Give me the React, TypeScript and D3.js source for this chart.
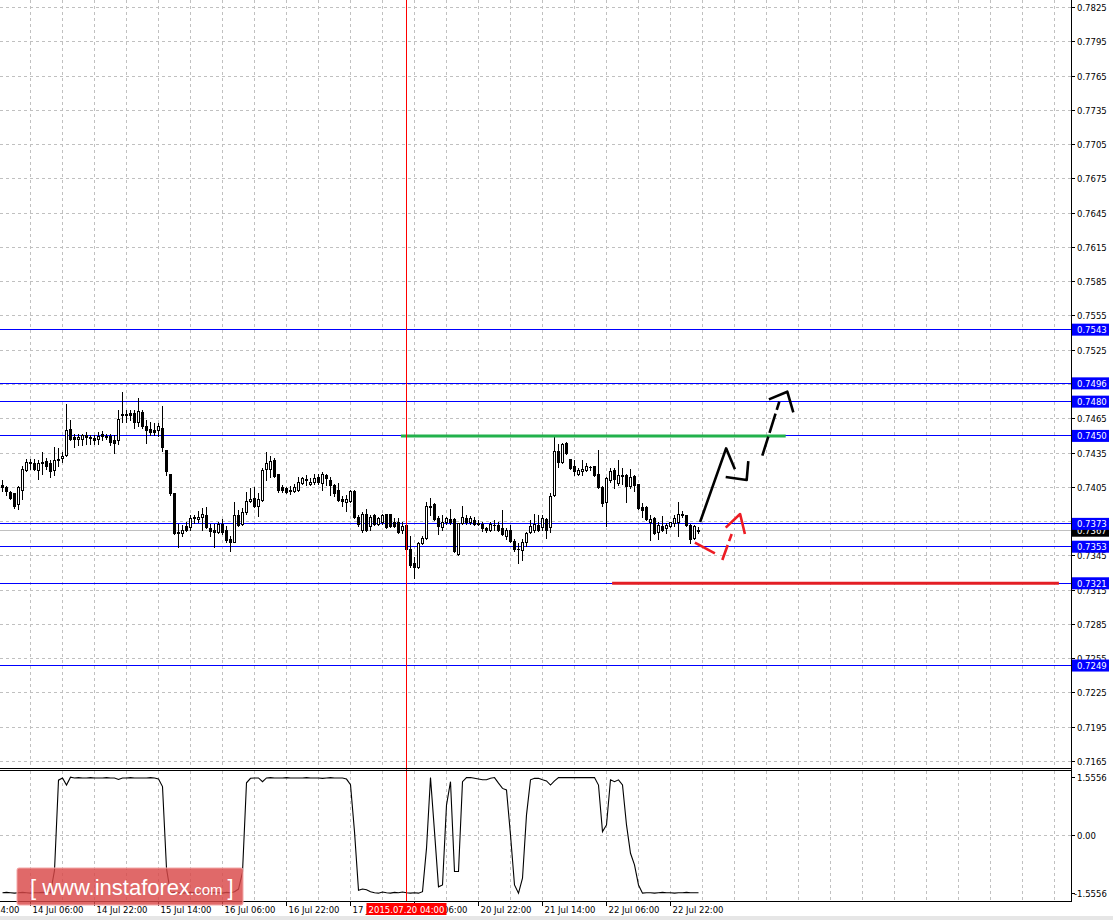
import React from "react";
import * as d3 from "d3";

// ---------- data ----------
const PRICE_TICKS = [0.7825, 0.7795, 0.7765, 0.7735, 0.7705, 0.7675, 0.7645, 0.7615, 0.7585, 0.7555, 0.7525, 0.7495, 0.7465, 0.7435, 0.7405, 0.7375, 0.7345, 0.7315, 0.7285, 0.7255, 0.7225, 0.7195, 0.7165];
const LEVELS = [0.7543, 0.7496, 0.748, 0.745, 0.7373, 0.7353, 0.7321, 0.7249];
const CURRENT = 0.7367;

const OPEN = [0.7407,0.7405,0.7401,0.7400,0.7390,0.7403,0.7420,0.7427,0.7426,0.7420,0.7426,0.7428,0.7426,0.7420,0.7429,0.7431,0.7433,0.7456,0.7449,0.7447,0.7447,0.7451,0.7448,0.7448,0.7447,0.7452,0.7450,0.7450,0.7446,0.7446,0.7469,0.7468,0.7470,0.7470,0.7462,0.7471,0.7459,0.7456,0.7455,0.7455,0.7457,0.7438,0.7417,0.7400,0.7366,0.7365,0.7371,0.7370,0.7378,0.7377,0.7379,0.7381,0.7369,0.7368,0.7366,0.7373,0.7368,0.7360,0.7357,0.7381,0.7373,0.7383,0.7393,0.7396,0.7389,0.7394,0.7421,0.7421,0.7429,0.7417,0.7405,0.7404,0.7402,0.7402,0.7403,0.7409,0.7412,0.7408,0.7410,0.7414,0.7409,0.7416,0.7411,0.7407,0.7403,0.7395,0.7392,0.7393,0.7402,0.7379,0.7368,0.7382,0.7371,0.7381,0.7373,0.7375,0.7382,0.7382,0.7375,0.7375,0.7368,0.7372,0.7351,0.7339,0.7335,0.7356,0.7361,0.7389,0.7390,0.7378,0.7370,0.7375,0.7377,0.7377,0.7347,0.7374,0.7378,0.7375,0.7376,0.7374,0.7373,0.7369,0.7368,0.7372,0.7372,0.7369,0.7362,0.7368,0.7358,0.7351,0.7350,0.7357,0.7366,0.7368,0.7372,0.7370,0.7377,0.7370,0.7398,0.7437,0.7427,0.7444,0.7430,0.7424,0.7417,0.7419,0.7420,0.7423,0.7424,0.7417,0.7405,0.7392,0.7411,0.7420,0.7409,0.7415,0.7416,0.7406,0.7415,0.7408,0.7388,0.7388,0.7375,0.7378,0.7366,0.7371,0.7369,0.7371,0.7374,0.7375,0.7381,0.7381,0.7372,0.7361,0.7368];
const HIGH = [0.7411,0.7406,0.7402,0.7400,0.7406,0.7424,0.7430,0.7430,0.7430,0.7429,0.7436,0.7431,0.7429,0.7440,0.7439,0.7436,0.7478,0.7464,0.7452,0.7452,0.7452,0.7453,0.7451,0.7451,0.7453,0.7454,0.7452,0.7452,0.7451,0.7473,0.7488,0.7473,0.7473,0.7473,0.7483,0.7473,0.7464,0.7462,0.7461,0.7461,0.7476,0.7438,0.7417,0.7400,0.7373,0.7372,0.7375,0.7381,0.7381,0.7384,0.7387,0.7388,0.7373,0.7373,0.7375,0.7377,0.7371,0.7362,0.7392,0.7385,0.7387,0.7401,0.7404,0.7405,0.7400,0.7422,0.7436,0.7432,0.7431,0.7417,0.7407,0.7405,0.7406,0.7408,0.7414,0.7414,0.7416,0.7413,0.7417,0.7417,0.7418,0.7417,0.7414,0.7408,0.7409,0.7397,0.7398,0.7403,0.7403,0.7381,0.7383,0.7386,0.7381,0.7382,0.7379,0.7382,0.7382,0.7382,0.7378,0.7378,0.7375,0.7373,0.7362,0.7344,0.7357,0.7362,0.7392,0.7396,0.7391,0.7380,0.7381,0.7379,0.7386,0.7378,0.7374,0.7389,0.7381,0.7380,0.7379,0.7376,0.7375,0.7370,0.7375,0.7376,0.7375,0.7385,0.7369,0.7372,0.7360,0.7356,0.7360,0.7366,0.7376,0.7382,0.7381,0.7381,0.7378,0.7400,0.7449,0.7443,0.7444,0.7445,0.7430,0.7429,0.7422,0.7429,0.7426,0.7424,0.7424,0.7438,0.7406,0.7414,0.7422,0.7422,0.7429,0.7422,0.7417,0.7421,0.7416,0.7408,0.7391,0.7389,0.7381,0.7379,0.7375,0.7380,0.7374,0.7375,0.7381,0.7392,0.7384,0.7381,0.7373,0.7372,0.7370];
const LOW = [0.7402,0.7398,0.7395,0.7387,0.7386,0.7395,0.7419,0.7421,0.7420,0.7412,0.7417,0.7421,0.7414,0.7416,0.7424,0.7427,0.7432,0.7446,0.7440,0.7442,0.7442,0.7443,0.7443,0.7443,0.7443,0.7446,0.7447,0.7442,0.7435,0.7443,0.7462,0.7462,0.7464,0.7457,0.7459,0.7457,0.7444,0.7451,0.7451,0.7450,0.7437,0.7416,0.7398,0.7364,0.7353,0.7362,0.7367,0.7368,0.7374,0.7375,0.7368,0.7369,0.7362,0.7353,0.7365,0.7364,0.7357,0.7349,0.7357,0.7371,0.7372,0.7382,0.7392,0.7388,0.7380,0.7393,0.7411,0.7414,0.7414,0.7401,0.7401,0.7400,0.7399,0.7401,0.7402,0.7408,0.7407,0.7407,0.7408,0.7408,0.7403,0.7407,0.7398,0.7397,0.7393,0.7389,0.7384,0.7392,0.7378,0.7371,0.7366,0.7367,0.7368,0.7372,0.7372,0.7373,0.7369,0.7370,0.7370,0.7365,0.7365,0.7350,0.7335,0.7326,0.7334,0.7355,0.7360,0.7381,0.7376,0.7364,0.7368,0.7373,0.7373,0.7348,0.7346,0.7373,0.7373,0.7373,0.7372,0.7372,0.7367,0.7366,0.7367,0.7368,0.7367,0.7363,0.7360,0.7357,0.7349,0.7339,0.7341,0.7354,0.7365,0.7366,0.7367,0.7368,0.7361,0.7366,0.7397,0.7423,0.7426,0.7434,0.7421,0.7416,0.7416,0.7416,0.7419,0.7420,0.7415,0.7404,0.7389,0.7371,0.7410,0.7404,0.7407,0.7408,0.7392,0.7404,0.7402,0.7386,0.7379,0.7376,0.7359,0.7364,0.7360,0.7367,0.7365,0.7370,0.7371,0.7362,0.7379,0.7371,0.7356,0.7360,0.7365];
const CLOSE = [0.7405,0.7402,0.7396,0.7389,0.7405,0.7421,0.7427,0.7426,0.7421,0.7426,0.7427,0.7424,0.7419,0.7429,0.7430,0.7432,0.7455,0.7447,0.7447,0.7449,0.7451,0.7449,0.7449,0.7446,0.7450,0.7450,0.7449,0.7445,0.7444,0.7465,0.7468,0.7469,0.7468,0.7462,0.7472,0.7459,0.7455,0.7453,0.7453,0.7459,0.7440,0.7419,0.7400,0.7365,0.7365,0.7368,0.7368,0.7378,0.7379,0.7379,0.7382,0.7370,0.7367,0.7366,0.7373,0.7366,0.7359,0.7357,0.7381,0.7372,0.7383,0.7393,0.7395,0.7389,0.7395,0.7420,0.7426,0.7428,0.7415,0.7403,0.7403,0.7401,0.7403,0.7405,0.7410,0.7413,0.7411,0.7410,0.7413,0.7410,0.7417,0.7413,0.7407,0.7400,0.7394,0.7393,0.7395,0.7402,0.7379,0.7373,0.7382,0.7368,0.7379,0.7373,0.7378,0.7381,0.7370,0.7371,0.7371,0.7366,0.7371,0.7351,0.7337,0.7335,0.7356,0.7361,0.7389,0.7388,0.7377,0.7371,0.7375,0.7378,0.7375,0.7349,0.7374,0.7379,0.7375,0.7378,0.7373,0.7373,0.7369,0.7368,0.7373,0.7372,0.7368,0.7364,0.7368,0.7358,0.7351,0.7351,0.7357,0.7365,0.7371,0.7373,0.7368,0.7378,0.7368,0.7397,0.7437,0.7427,0.7443,0.7435,0.7422,0.7419,0.7420,0.7421,0.7424,0.7423,0.7416,0.7405,0.7391,0.7413,0.7419,0.7412,0.7416,0.7416,0.7406,0.7414,0.7407,0.7387,0.7385,0.7377,0.7377,0.7365,0.7372,0.7368,0.7372,0.7375,0.7378,0.7382,0.7382,0.7372,0.7360,0.7371,0.7367];

const OSC = [-1.55,-1.54,-1.55,-1.56,-1.55,-1.54,-1.55,-1.56,-1.55,-1.55,-1.54,-1.55,-1.55,-0.95,1.47,1.53,1.34,1.55,1.53,1.54,1.53,1.53,1.54,1.53,1.53,1.53,1.54,1.53,1.53,1.49,1.53,1.53,1.54,1.53,1.53,1.53,1.53,1.54,1.53,1.50,1.30,-0.90,-1.55,-1.54,-1.55,-1.56,-1.55,-1.54,-1.55,-1.55,-1.56,-1.55,-1.54,-1.55,-1.55,-1.56,-1.54,-1.55,-1.52,-1.45,-1.00,1.40,1.52,1.53,1.53,1.43,1.53,1.54,1.53,1.53,1.53,1.54,1.53,1.53,1.53,1.53,1.54,1.53,1.53,1.53,1.52,1.53,1.54,1.53,1.53,1.53,1.50,1.35,0.09,-1.48,-1.45,-1.47,-1.52,-1.55,-1.56,-1.53,-1.55,-1.56,-1.54,-1.55,-1.53,-1.55,-1.56,-1.55,-1.56,-1.52,-0.36,1.54,0.09,-1.39,-1.34,0.80,1.43,-0.98,-0.98,1.43,1.54,1.54,1.52,1.50,1.48,1.48,1.52,1.54,1.39,1.25,1.21,0.00,-1.34,-1.56,-1.16,0.54,1.48,1.52,1.52,1.48,1.45,1.34,1.45,1.54,1.54,1.54,1.54,1.54,1.54,1.54,1.54,1.54,1.54,1.34,0.09,0.27,1.48,1.43,1.48,1.34,0.27,-0.49,-0.80,-1.34,-1.56,-1.55,-1.55,-1.56,-1.55,-1.54,-1.55,-1.55,-1.56,-1.55,-1.55,-1.54,-1.55,-1.55,-1.55];
const OSC_TICKS = [1.5556, 0, -1.5556];
const OSC_LABELS = ["1.5556", "0.00", "-1.5556"];

const TIME_BARS = [-9, 7, 23, 39, 55, 71, 87, 103, 119, 135, 151, 167];
const TIME_LABELS = ["13 Jul 14:00", "14 Jul 06:00", "14 Jul 22:00", "15 Jul 14:00", "16 Jul 06:00", "16 Jul 22:00", "17 Jul 14:00", "20 Jul 06:00", "20 Jul 22:00", "21 Jul 14:00", "22 Jul 06:00", "22 Jul 22:00"];
const MARKER_BAR = 101;
const MARKER_LABEL = "2015.07.20 04:00";

// analyst drawings, in (bar, price)
const GREEN_LINE = [[99.6, 0.745], [195.8, 0.745]];
const RED_LINE = [[152.4, 0.7321], [264.1, 0.7321]];
const BLACK_UP1 = [[174.4, 0.73746], [180.9, 0.74391], [183.1, 0.74208]];
const BLACK_UP2 = [[180.8, 0.7414], [186.05, 0.74114], [186.45, 0.7428]];
const BLACK_DASH = [[189.95, 0.74327], [194.2, 0.74799]];
const BLACK_HEAD = [[191.6, 0.7482], [196.2, 0.74887], [197.7, 0.74706]];
const RED_1 = [[173.1, 0.73565], [178.1, 0.73472]];
const RED_2 = [[179.95, 0.73414], [182.3, 0.73641]];
const RED_3 = [[180.8, 0.73697], [184.4, 0.73816], [185.6, 0.73641]];

const FONT = "'DejaVu Sans', Verdana, sans-serif";

export default function App() {
  const W = 1113, H = 920;
  const axisX = 1071;
  const mainBottom = 768;
  const indTop = 771;
  const indBottom = 901;
  const x = d3.scaleLinear().domain([0, 174]).range([2.5, 698.5]);
  const y = d3.scaleLinear().domain([0.7165, 0.7825]).range([761.5, 7.5]);
  const yi = d3.scaleLinear().domain([-1.5556, 1.5556]).range([893, 777]);
  const snap = (v: number) => Math.round(v - 0.5) + 0.5;
  const fmt = d3.format(".4f");
  const line = d3.line<number[]>().x((d) => x(d[0])).y((d) => y(d[1]));
  const oscLine = d3.line<number>().x((_, i) => x(i)).y((d) => yi(d));
  const gridBars = d3.range(7, 264, 8);

  return (
    <svg width={W} height={H} style={{ position: "absolute", left: 0, top: 0, background: "#fff" }} fontFamily={FONT}>
      <defs>
        <clipPath id="mainClip"><rect x={0} y={0} width={axisX} height={mainBottom} /></clipPath>
        <clipPath id="indClip"><rect x={0} y={indTop} width={axisX} height={indBottom - indTop} /></clipPath>
      </defs>
      <rect x={0} y={0} width={W} height={H} fill="#fff" />
      <rect x={0} y={916} width={W} height={4} fill="#e6e6e6" />

      {/* main panel */}
      <g clipPath="url(#mainClip)">
        {gridBars.map((b) => (
          <line key={"gv" + b} x1={x(b)} x2={x(b)} y1={0} y2={mainBottom} stroke="#c0c0c0" strokeDasharray="3,3" />
        ))}
        {PRICE_TICKS.map((p) => (
          <line key={"gh" + p} x1={0} x2={axisX} y1={snap(y(p))} y2={snap(y(p))} stroke="#c0c0c0" strokeDasharray="3,3" />
        ))}
        <line x1={0} x2={axisX} y1={snap(y(CURRENT))} y2={snap(y(CURRENT))} stroke="#c0c0c0" />
        {LEVELS.map((p) => (
          <line key={"lv" + p} x1={0} x2={axisX} y1={snap(y(p))} y2={snap(y(p))} stroke="#0000ff" />
        ))}
        {OPEN.map((o, i) => {
          const c = CLOSE[i];
          const cx = x(i);
          const yo = Math.round(y(o));
          const yc = Math.round(y(c));
          let body;
          if (yo === yc) {
            body = <line x1={cx - 1.5} x2={cx + 1.5} y1={yo + 0.5} y2={yo + 0.5} stroke="#000" />;
          } else if (yc > yo) {
            body = <rect x={cx - 1.5} y={yo} width={3} height={yc - yo + 1} fill="#000" />;
          } else {
            body = <rect x={cx - 1} y={yc + 0.5} width={2} height={yo - yc} fill="#fff" stroke="#000" />;
          }
          return (
            <g key={"c" + i}>
              <line x1={cx} x2={cx} y1={Math.round(y(HIGH[i]))} y2={Math.round(y(LOW[i])) + 1} stroke="#000" />
              {body}
            </g>
          );
        })}
        <path d={line(GREEN_LINE) || ""} stroke="#22b14c" strokeWidth={3} fill="none" />
        <path d={line(RED_LINE) || ""} stroke="#e31e24" strokeWidth={3} fill="none" />
        <path d={line(BLACK_UP1) || ""} stroke="#000" strokeWidth={2.6} fill="none" strokeLinejoin="round" />
        <path d={line(BLACK_UP2) || ""} stroke="#000" strokeWidth={2.6} fill="none" strokeLinejoin="round" />
        <path d={line(BLACK_DASH) || ""} stroke="#000" strokeWidth={2.6} fill="none" strokeDasharray="20,4" />
        <path d={line(BLACK_HEAD) || ""} stroke="#000" strokeWidth={2.6} fill="none" strokeLinejoin="round" />
        <path d={line(RED_1) || ""} stroke="#ed1c24" strokeWidth={2.6} fill="none" />
        <path d={line(RED_2) || ""} stroke="#ed1c24" strokeWidth={2.6} fill="none" strokeDasharray="16,4" />
        <path d={line(RED_3) || ""} stroke="#ed1c24" strokeWidth={2.6} fill="none" strokeLinejoin="round" />
      </g>

      {/* indicator panel */}
      <g clipPath="url(#indClip)">
        {gridBars.map((b) => (
          <line key={"ig" + b} x1={x(b)} x2={x(b)} y1={indTop} y2={indBottom} stroke="#c0c0c0" strokeDasharray="3,3" />
        ))}
        <line x1={0} x2={axisX} y1={snap(yi(0))} y2={snap(yi(0))} stroke="#c0c0c0" strokeDasharray="3,3" />
        <path d={oscLine(OSC) || ""} stroke="#000" strokeWidth={1.1} fill="none" />
      </g>

      {/* marker vertical line */}
      <line x1={x(MARKER_BAR)} x2={x(MARKER_BAR)} y1={0} y2={indBottom} stroke="#ff0000" />

      {/* panel borders */}
      <line x1={0} x2={axisX} y1={768.5} y2={768.5} stroke="#000" />
      <line x1={0} x2={axisX} y1={770.5} y2={770.5} stroke="#000" />
      <line x1={0} x2={axisX + 1} y1={indBottom + 0.5} y2={indBottom + 0.5} stroke="#000" />
      <line x1={axisX + 0.5} x2={axisX + 0.5} y1={0} y2={indBottom + 1} stroke="#000" />

      {/* price axis */}
      {PRICE_TICKS.map((p) => (
        <g key={"pt" + p}>
          <line x1={axisX} x2={axisX + 4} y1={snap(y(p))} y2={snap(y(p))} stroke="#000" />
          <text x={axisX + 6} y={y(p) + 3.5} fontSize={8.5} fill="#000">{fmt(p)}</text>
        </g>
      ))}
      <g>
        <rect x={axisX + 1} y={y(CURRENT) - 6} width={37} height={12} fill="#000" />
        <text x={axisX + 6} y={y(CURRENT) + 3.5} fontSize={8.5} fill="#fff">{fmt(CURRENT)}</text>
      </g>
      {LEVELS.map((p) => (
        <g key={"lb" + p}>
          <rect x={axisX + 1} y={y(p) - 6} width={37} height={12} fill="#0000ff" />
          <text x={axisX + 6} y={y(p) + 3.5} fontSize={8.5} fill="#fff">{fmt(p)}</text>
        </g>
      ))}

      {/* oscillator axis */}
      {OSC_TICKS.map((v, i) => (
        <g key={"ot" + i}>
          <line x1={axisX} x2={axisX + 4} y1={snap(yi(v))} y2={snap(yi(v))} stroke="#000" />
          <text x={v < 0 ? axisX + 3 : axisX + 6} y={yi(v) + 3.5} fontSize={8.5} fill="#000">{OSC_LABELS[i]}</text>
        </g>
      ))}

      {/* time axis */}
      {TIME_BARS.map((b, i) => (
        <g key={"tt" + b}>
          <line x1={x(b)} x2={x(b)} y1={indBottom} y2={indBottom + 5} stroke="#000" />
          <text x={x(b) + 2} y={913} fontSize={8.5} fill="#000">{TIME_LABELS[i]}</text>
        </g>
      ))}
      <rect x={x(MARKER_BAR) - 40} y={903} width={80} height={12} fill="#ff0000" />
      <text x={x(MARKER_BAR)} y={912.5} fontSize={8.5} fill="#fff" textAnchor="middle">{MARKER_LABEL}</text>

      {/* watermark */}
      <g>
        <rect x={17} y={868} width={226} height={37} rx={2} fill="#d94848" fillOpacity={0.82} stroke="#f2a8a8" strokeWidth={1} />
        <text x={30} y={895} fill="#fff" fontFamily="'Liberation Sans', Arial, sans-serif" fontSize={22}>
          <tspan>[</tspan>
          <tspan dx={6}>www.instaforex</tspan>
          <tspan fontSize={15}>.com</tspan>
          <tspan dx={5}>]</tspan>
        </text>
      </g>
    </svg>
  );
}
